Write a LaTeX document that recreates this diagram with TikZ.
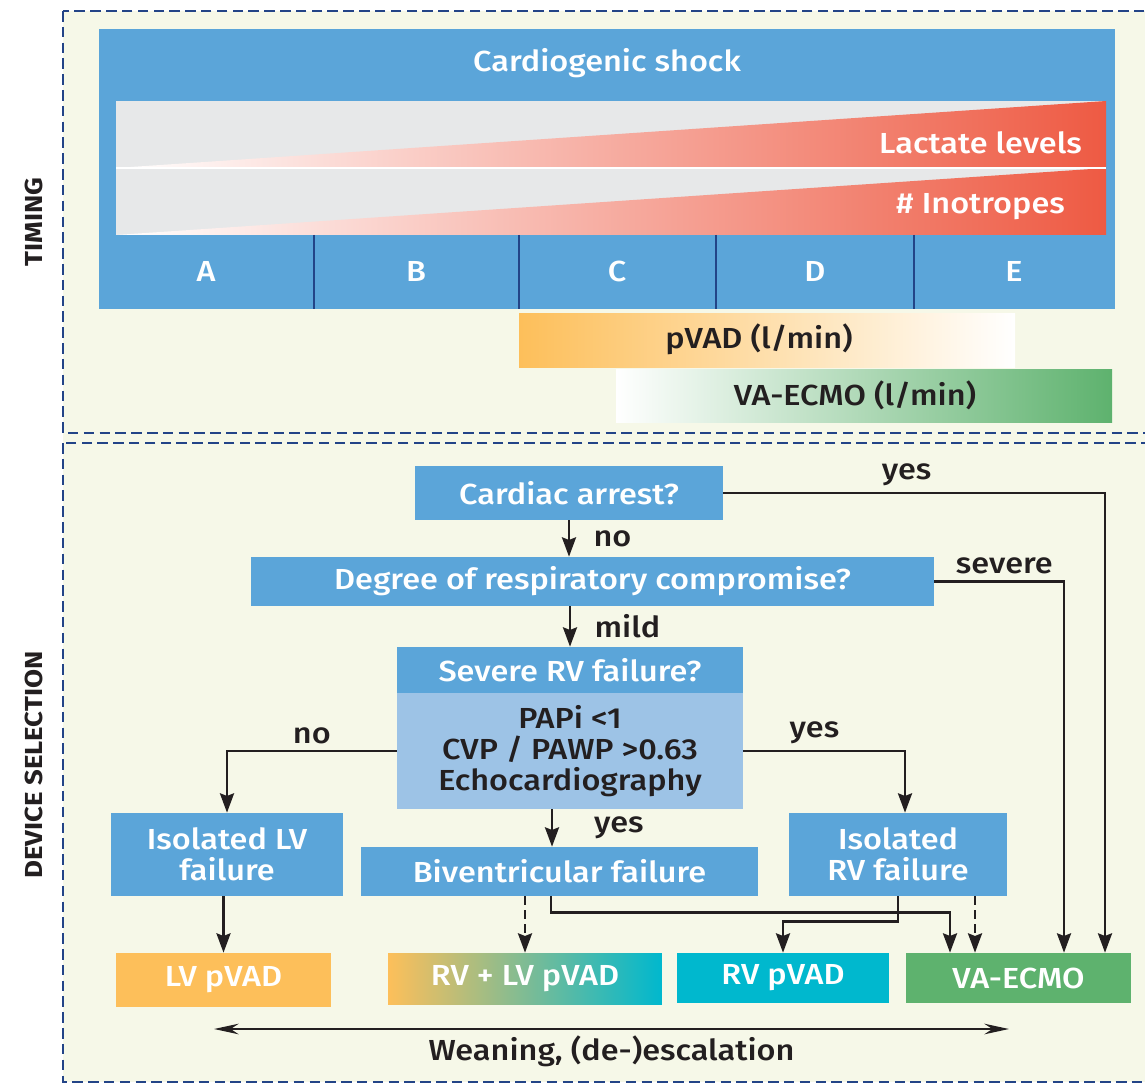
\documentclass[tikz,border=0pt]{standalone}
\usepackage{fontspec}
\IfFontExistsTF{Fira Sans Medium}{\setmainfont{Fira Sans Medium}[BoldFont={Fira Sans Bold}, FakeStretch=1.12]}{\setmainfont{Fira Sans}[FakeStretch=1.12]}
\usetikzlibrary{arrows.meta}

\definecolor{shockblue}{RGB}{91,165,217}
\definecolor{critblue}{RGB}{157,195,230}
\definecolor{navy}{RGB}{35,68,135}
\definecolor{bandgray}{RGB}{231,232,233}
\definecolor{lactred}{RGB}{238,90,67}
\definecolor{pvadorange}{RGB}{253,191,90}
\definecolor{rvcyan}{RGB}{0,184,206}
\definecolor{ecmogreen}{RGB}{94,178,110}
\definecolor{cream}{RGB}{246,248,232}
\definecolor{ink}{RGB}{35,31,32}

\tikzset{
	every node/.style={font=\fontsize{16.5}{17.5}\selectfont},
	panel/.style={navy, line width=1.5pt, dash pattern=on 6pt off 3pt},
	side/.style={rotate=90, text=ink, font=\fontsize{14}{14}\selectfont\bfseries},
	bluebox/.style={fill=shockblue, text=white, align=center, inner sep=0pt},
	critbox/.style={fill=critblue, text=ink, align=center, inner sep=0pt},
	devbox/.style={text=white, inner sep=0pt},
	lbl/.style={text=ink},
	arr/.style={ink, line width=1.4pt, -{Stealth[length=11pt, width=8pt, inset=1.5pt]}},
}

\begin{document}
\begin{tikzpicture}[x=0.02cm, y=-0.02cm]
	\useasboundingbox (0,0) rectangle (1145,1084);
	% panels
	\fill[cream] (63,11) rectangle (1170,1082);
	\draw[panel] (63,11) rectangle (1170,433);
	\draw[panel] (63,443) rectangle (1170,1082);
	\node[side] (timing) at (34,222) {TIMING};
	\node[side] (selection) at (34,765) {DEVICE SELECTION};
	% timing
	\fill[shockblue] (99,29) rectangle (1115,309);
	\node[text=white] (shock) at (607,63) {Cardiogenic shock};
	\fill[bandgray] (116,101) rectangle (1106,235);
	\shade[left color=white, right color=lactred] (116,168) -- (1106,101) -- (1106,168) -- cycle;
	\shade[left color=white, right color=lactred] (116,235) -- (1106,168) -- (1106,235) -- cycle;
	\draw[white, thick] (116,168) -- (1106,168);
	\node[text=white, anchor=east] (lactate) at (1088,143) {Lactate levels};
	\node[text=white, anchor=east] (inotropes) at (1071,207) {\# Inotropes};
	\foreach \x in {314,519,716,914}
		\draw[navy, line width=1.5pt] (\x,235) -- (\x,309);
	\foreach \s/\x in {A/206,B/416,C/617,D/815,E/1014}
		\node[text=white] (stage\s) at (\x,271) {\s};
	% support bars
	\shade[left color=pvadorange, right color=white] (519,313) rectangle (1015,367);
	\node[lbl] (pvadbar) at (759,339) {pVAD (l/min)};
	\shade[left color=white, right color=ecmogreen] (616,369) rectangle (1112,422);
	\node[lbl] (ecmobar) at (855,395) {VA-ECMO (l/min)};
	% questions
	\node[bluebox, minimum width=6.16cm, minimum height=1.08cm] (arrest) at (569,493) {Cardiac arrest?};
	\node[bluebox, minimum width=13.66cm, minimum height=0.98cm] (degree) at (592.5,581.5) {Degree of respiratory compromise?};
	\node[bluebox, minimum width=6.92cm, minimum height=0.92cm] (rvq) at (570,670) {Severe RV failure?};
	\node[critbox, minimum width=6.92cm, minimum height=2.32cm] (rvcrit) at (570,751) {PAPi <1\\CVP / PAWP >0.63\\Echocardiography};
	% failure types
	\node[bluebox, minimum width=4.64cm, minimum height=1.66cm] (lvfail) at (227,854.5) {Isolated LV\\failure};
	\node[bluebox, minimum width=7.94cm, minimum height=0.98cm] (bifail) at (559.5,871.5) {Biventricular failure};
	\node[bluebox, minimum width=4.36cm, minimum height=1.66cm] (rvfail) at (898,854.5) {Isolated\\RV failure};
	% devices
	\node[devbox, fill=pvadorange, minimum width=4.30cm, minimum height=1.08cm] (lvpvad) at (223.5,980) {LV pVAD};
	\node[devbox, left color=pvadorange, right color=rvcyan, minimum width=5.48cm, minimum height=1.02cm] (bipvad) at (525,978.5) {RV + LV pVAD};
	\node[devbox, fill=rvcyan, minimum width=4.24cm, minimum height=1.0cm] (rvpvad) at (783,978) {RV pVAD};
	\node[devbox, fill=ecmogreen, minimum width=4.5cm, minimum height=1.0cm] (ecmo) at (1018.5,978) {VA-ECMO};
	% decisions
	\draw[arr] (arrest.south) -- (arrest.south |- degree.north) node[lbl, midway, right=0.35cm] {no};
	\draw[arr] (degree.south -| rvq.north) -- (rvq.north) node[lbl, midway, right=0.35cm] {mild};
	\draw[arr] (arrest.east) -| (ecmo.north -| 1105,0) node[lbl, pos=0.24, above] {yes};
	\draw[arr] (degree.east) -| (ecmo.north -| 1064,0) node[lbl, pos=0.27, above] {severe};
	\draw[arr] (rvcrit.west) -| (lvfail.north) node[lbl, pos=0.25, above] {no};
	\draw[arr] (rvcrit.east) -| (rvfail.north -| 905,0) node[lbl, pos=0.22, above] {yes};
	\draw[arr] (rvcrit.south -| 552,0) -- (bifail.north -| 552,0) node[lbl, midway, right=0.7cm] {yes};
	% to devices
	\draw[arr] (lvfail.south -| lvpvad.north) -- (lvpvad.north);
	\draw[arr, dash pattern=on 5pt off 3pt] (bifail.south -| bipvad.north) -- (bipvad.north);
	\draw[arr] (bifail.south -| 551,0) -- ++(0,16) -| (ecmo.north -| 950,0);
	\draw[arr] (rvfail.south) -- ++(0,25) -| (rvpvad.north);
	\draw[arr, dash pattern=on 5pt off 3pt] (rvfail.south -| 975,0) -- (ecmo.north -| 975,0);
	% weaning
	\coordinate (wl) at (214,1029);
	\coordinate (wr) at (1009,1029);
	\draw[ink, line width=1.4pt, {Stealth[length=14pt, width=6pt]}-{Stealth[length=14pt, width=6pt]}] (wl) -- (wr) node[lbl, midway, below] (weaning) {Weaning, (de-)escalation};
\end{tikzpicture}
\end{document}
